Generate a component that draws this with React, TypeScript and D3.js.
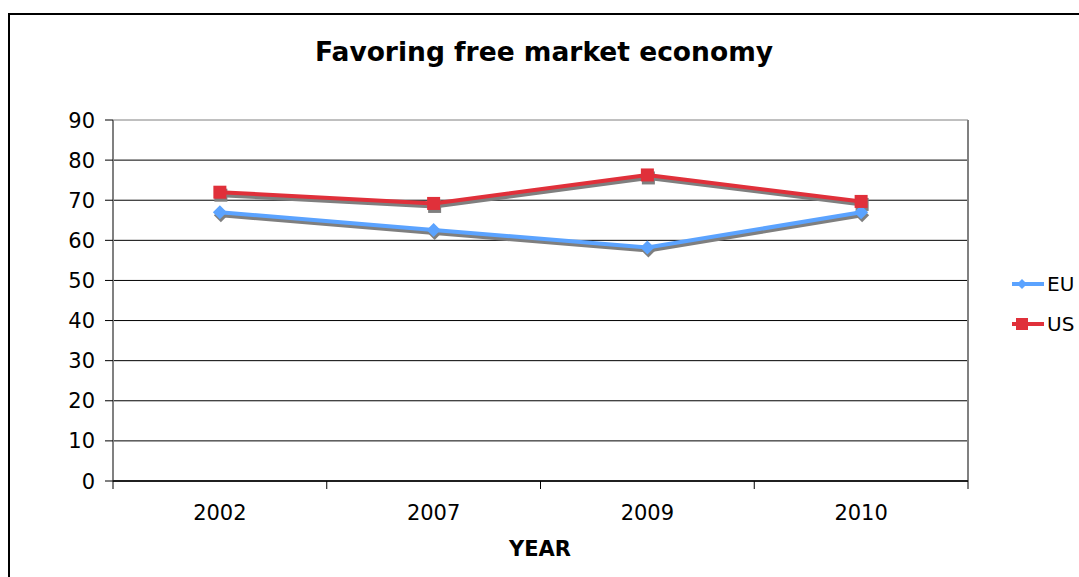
import React from "react";
import * as d3 from "d3";

const years = ["2002", "2007", "2009", "2010"];
const euValues = [67, 62.6, 58.2, 67];
const usValues = [72, 69.2, 76.3, 69.7];
const yTicks = [0, 10, 20, 30, 40, 50, 60, 70, 80, 90];

const W = 1079;
const H = 577;
const plot = { left: 113, right: 968, top: 120, bottom: 481 };
const EU_COLOR = "#5BA3FF";
const US_COLOR = "#E0303A";
const SHADOW = "#7F7F7F";
const FONT = "'DejaVu Sans', Verdana, sans-serif";

export default function App() {
  const x = d3.scaleBand<string>().domain(years).range([plot.left, plot.right]);
  const y = d3.scaleLinear().domain([0, 90]).range([plot.bottom, plot.top]);
  const cx = (yr: string) => (x(yr) as number) + x.bandwidth() / 2;
  const line = d3
    .line<number>()
    .x((_, i) => cx(years[i]))
    .y((v) => y(v));

  const diamond = (px: number, py: number, r: number) =>
    `M${px},${py - r}L${px + r},${py}L${px},${py + r}L${px - r},${py}Z`;

  const sdx = 1;
  const sdy = 3;

  const boundaries = [...years.map((yr) => x(yr) as number), plot.right];

  return (
    <svg
      width={W}
      height={H}
      style={{ position: "absolute", left: 0, top: 0, background: "#fff" }}
      fontFamily={FONT}
    >
      <rect x={0} y={0} width={W} height={H} fill="#fff" />
      {/* outer border */}
      <rect x={9} y={14} width={W + 20} height={H + 20} fill="none" stroke="#000" strokeWidth={2} />

      <text x={544} y={61} textAnchor="middle" fontSize={26.5} fontWeight="bold" fill="#000">
        Favoring free market economy
      </text>

      {/* gridlines */}
      {yTicks.map((t) => (
        <line key={t} x1={plot.left} x2={plot.right} y1={y(t)} y2={y(t)} stroke={t === 90 ? "#808080" : "#000"} strokeWidth={1} />
      ))}
      {/* plot border */}
      <line x1={plot.left} x2={plot.left} y1={plot.top} y2={plot.bottom} stroke="#808080" strokeWidth={2} />
      <line x1={plot.right} x2={plot.right} y1={plot.top} y2={plot.bottom} stroke="#808080" strokeWidth={2} />
      <line x1={plot.left} x2={plot.right} y1={plot.bottom} y2={plot.bottom} stroke="#000" strokeWidth={1.5} />

      {/* y ticks & labels */}
      {yTicks.map((t) => (
        <g key={"yt" + t}>
          <line x1={plot.left - 8} x2={plot.left} y1={y(t)} y2={y(t)} stroke="#000" strokeWidth={1} />
          <text x={95} y={y(t)} dy="0.36em" textAnchor="end" fontSize={21} fill="#000">
            {t}
          </text>
        </g>
      ))}

      {/* x ticks & labels */}
      {boundaries.map((b, i) => (
        <line key={"xt" + i} x1={b} x2={b} y1={plot.bottom} y2={plot.bottom + 8} stroke="#000" strokeWidth={1} />
      ))}
      {years.map((yr) => (
        <text key={yr} x={cx(yr)} y={520} textAnchor="middle" fontSize={21} fill="#000">
          {yr}
        </text>
      ))}
      <text x={540} y={556} textAnchor="middle" fontSize={21} fontWeight="bold" fill="#000">
        YEAR
      </text>

      {/* shadows */}
      <g transform={`translate(${sdx},${sdy})`}>
        <path d={line(euValues) as string} fill="none" stroke={SHADOW} strokeWidth={4} strokeLinejoin="round" />
        {euValues.map((v, i) => (
          <path key={"es" + i} d={diamond(cx(years[i]), y(v), 7)} fill={SHADOW} />
        ))}
        <path d={line(usValues) as string} fill="none" stroke={SHADOW} strokeWidth={4} strokeLinejoin="round" />
        {usValues.map((v, i) => (
          <rect key={"us" + i} x={cx(years[i]) - 6.5} y={y(v) - 6.5} width={13} height={13} fill={SHADOW} />
        ))}
      </g>

      {/* EU */}
      <path d={line(euValues) as string} fill="none" stroke={EU_COLOR} strokeWidth={4} strokeLinejoin="round" />
      {euValues.map((v, i) => (
        <path key={"e" + i} d={diamond(cx(years[i]), y(v), 7)} fill={EU_COLOR} />
      ))}
      {/* US */}
      <path d={line(usValues) as string} fill="none" stroke={US_COLOR} strokeWidth={4} strokeLinejoin="round" />
      {usValues.map((v, i) => (
        <rect key={"u" + i} x={cx(years[i]) - 6.5} y={y(v) - 6.5} width={13} height={13} fill={US_COLOR} />
      ))}

      {/* legend */}
      <g>
        <line x1={1012} x2={1044} y1={284} y2={284} stroke={EU_COLOR} strokeWidth={4} />
        <path d={diamond(1022, 284, 5)} fill={EU_COLOR} />
        <text x={1047} y={284} dy="0.36em" fontSize={20} fill="#000">EU</text>
        <line x1={1012} x2={1044} y1={324} y2={324} stroke={US_COLOR} strokeWidth={4} />
        <rect x={1016} y={318} width={12} height={12} fill={US_COLOR} />
        <text x={1047} y={324} dy="0.36em" fontSize={20} fill="#000">US</text>
      </g>
    </svg>
  );
}
